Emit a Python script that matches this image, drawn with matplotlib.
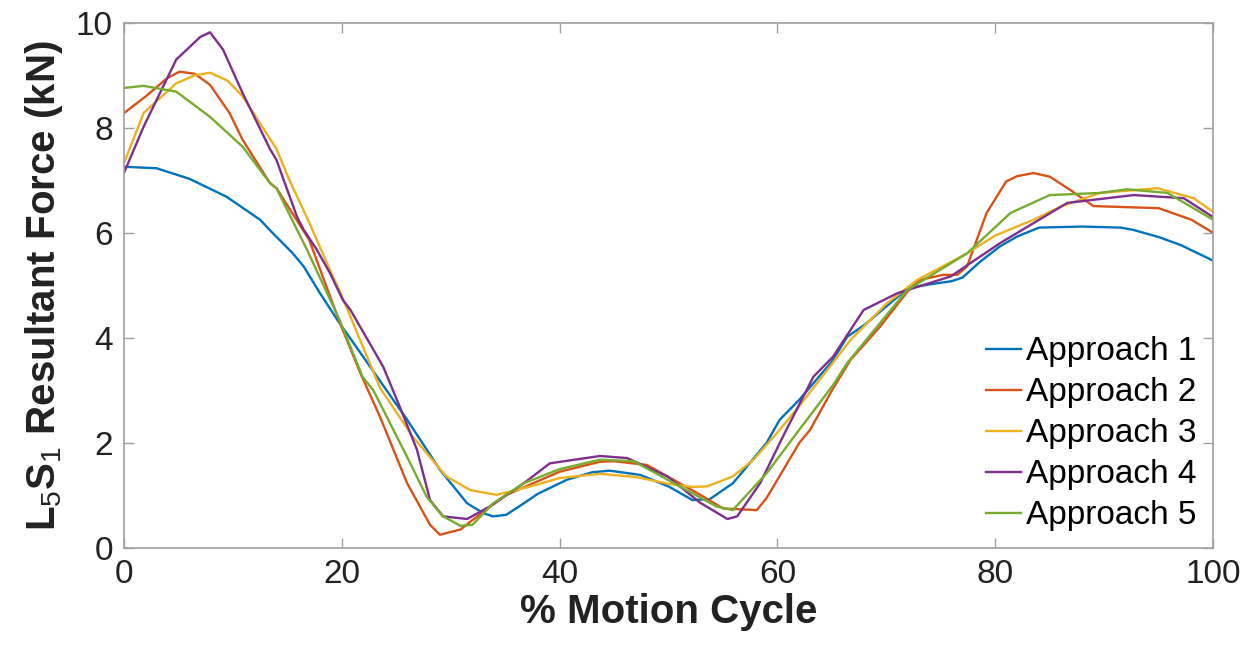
import matplotlib
matplotlib.use("Agg")
import matplotlib.pyplot as plt

plt.rcParams['font.family'] = ['Liberation Sans', 'DejaVu Sans']
plt.rcParams['mathtext.fontset'] = 'custom'
plt.rcParams['mathtext.rm'] = 'Liberation Sans'
plt.rcParams['mathtext.bf'] = 'Liberation Sans:bold'

# Approach 1
x1 = [0, 3, 6, 9.4, 12.5, 13.4, 15.5, 16.5, 18, 19.6, 22.6, 26, 29, 31.5, 33, 33.9,
      35.1, 36.5, 38, 40.7, 43, 44.6, 47.4, 50, 52.2, 53.8, 55.9, 57, 59, 60.2, 62,
      65, 66.4, 68, 70, 72, 74, 76, 77, 78.6, 80.4, 82, 84, 88, 91.5, 92.6, 95, 97, 100]
y1 = [7.26, 7.23, 7.03, 6.69, 6.25, 6.05, 5.61, 5.36, 4.85, 4.34, 3.45, 2.44, 1.49, 0.85,
      0.66, 0.6, 0.63, 0.82, 1.03, 1.3, 1.44, 1.47, 1.39, 1.17, 0.91, 0.93, 1.23, 1.5,
      2.0, 2.44, 2.82, 3.55, 4.02, 4.25, 4.6, 4.95, 5.02, 5.08, 5.15, 5.45, 5.74, 5.93,
      6.1, 6.12, 6.1, 6.06, 5.92, 5.77, 5.47]

# Approach 2
x2 = [0, 2, 4, 5.1, 6.5, 7.9, 9.7, 10.9, 13.4, 14, 17, 19.8, 21.7, 23.5, 26, 28.1, 29,
      30.9, 32, 35, 40, 43.7, 45, 48, 50, 53, 55, 58.1, 59, 62, 63, 65, 66.7, 69.4,
      72, 73, 75.2, 76.5, 77.4, 79.2, 81, 82, 83.5, 85, 87, 89, 95, 98, 100]
y2 = [8.28, 8.6, 8.95, 9.07, 9.03, 8.82, 8.28, 7.77, 6.95, 6.85, 5.87, 4.3, 3.33, 2.5,
      1.23, 0.44, 0.25, 0.35, 0.53, 1.0, 1.45, 1.64, 1.65, 1.58, 1.35, 1.0, 0.75, 0.72,
      0.95, 2.0, 2.25, 3.0, 3.58, 4.21, 4.9, 5.1, 5.2, 5.2, 5.36, 6.38, 6.98, 7.08,
      7.14, 7.07, 6.8, 6.51, 6.47, 6.25, 6.0]

# Approach 3
x3 = [0, 1.8, 4.8, 6.5, 7.9, 9.5, 10.9, 14, 15.2, 17, 18.9, 20, 23.5, 26.5, 29.6, 31.8,
      34.2, 37.3, 40, 43.7, 47, 50, 52.2, 53.5, 55.9, 57.8, 60, 62, 66.7, 70, 72.8,
      77.4, 80, 83.5, 86, 89.6, 94.9, 98.2, 100]
y3 = [7.33, 8.28, 8.85, 9.0, 9.05, 8.9, 8.6, 7.6, 7.0, 6.2, 5.3, 4.8, 3.05, 2.12, 1.36,
      1.1, 1.01, 1.17, 1.33, 1.41, 1.35, 1.22, 1.16, 1.17, 1.36, 1.68, 2.2, 2.7, 3.96,
      4.65, 5.1, 5.61, 5.95, 6.25, 6.5, 6.76, 6.85, 6.66, 6.4]

# Approach 4
x4 = [0, 1.8, 4.8, 7, 7.9, 9.1, 10.9, 13.4, 14, 15.9, 16.5, 17.7, 18.9, 20.1, 20.8,
      23.8, 25.3, 26.9, 28.1, 29.3, 31.5, 33.6, 36.7, 39.1, 43.7, 46.2, 49.9, 52.9,
      55.4, 56.3, 58.4, 60.5, 63.3, 65.1, 66.7, 67.9, 71, 75.9, 80.4, 86.6, 92.7,
      97.3, 100]
y4 = [7.14, 8.02, 9.3, 9.73, 9.82, 9.49, 8.66, 7.6, 7.39, 6.3, 6.06, 5.68, 5.24, 4.72,
      4.53, 3.45, 2.7, 1.87, 0.91, 0.6, 0.55, 0.79, 1.23, 1.61, 1.75, 1.71, 1.36, 0.86,
      0.55, 0.6, 1.23, 2.12, 3.26, 3.64, 4.15, 4.53, 4.85, 5.17, 5.8, 6.57, 6.72,
      6.66, 6.3]

# Approach 5
x5 = [0, 1.8, 4.8, 7.9, 10.9, 13.4, 14, 16.8, 19.8, 21.9, 22.9, 26, 27.8, 29.3, 30.9,
      32, 33.9, 36.7, 40, 43.7, 46.8, 51.3, 54.4, 55.9, 59, 62, 65.1, 66.4, 71.9,
      77.4, 81.4, 85, 89.6, 92.1, 95.8, 100]
y5 = [8.76, 8.8, 8.69, 8.21, 7.64, 6.95, 6.85, 5.68, 4.34, 3.26, 3.0, 1.73, 0.97, 0.6,
      0.42, 0.44, 0.85, 1.23, 1.5, 1.68, 1.65, 1.14, 0.79, 0.72, 1.42, 2.25, 3.1, 3.52,
      4.91, 5.61, 6.38, 6.72, 6.76, 6.83, 6.76, 6.25]

series = [(x1, y1, 'Approach 1'), (x2, y2, 'Approach 2'), (x3, y3, 'Approach 3'),
          (x4, y4, 'Approach 4'), (x5, y5, 'Approach 5')]
colors = ['#0072BD', '#D95319', '#EDB120', '#7E2F8E', '#77AC30']

fig = plt.figure(figsize=(12.52, 6.53), dpi=100)
ax = fig.add_axes([0.099, 0.161, 0.870, 0.804])

for (xs, ys, name), c in zip(series, colors):
    ax.plot(xs, ys, color=c, lw=1.7, label=name)

ax.set_xlim(0, 100)
ax.set_ylim(0, 10)
ax.set_xticks(range(0, 101, 20))
ax.set_yticks(range(0, 11, 2))
ax.tick_params(direction='in', length=7, width=1, colors='#a0a0a0',
               labelcolor='#222222', labelsize=24, top=True, right=True, pad=8)
for sp in ax.spines.values():
    sp.set_color('#a0a0a0')
    sp.set_linewidth(1.2)

ax.set_xlabel('% Motion Cycle', fontsize=29, fontweight='bold', labelpad=2,
              color='#222222')
ax.set_ylabel(r'L$_{5}$S$_{1}$ Resultant Force (kN)', fontsize=29,
              fontweight='bold', labelpad=8, color='#222222')

ax.legend(loc='lower right', frameon=False, fontsize=24, handlelength=1.05,
          handletextpad=0.15, labelspacing=0.3, borderaxespad=0.1,
          bbox_to_anchor=(1.0, 0.0))

fig.savefig('out.png', dpi=100)
